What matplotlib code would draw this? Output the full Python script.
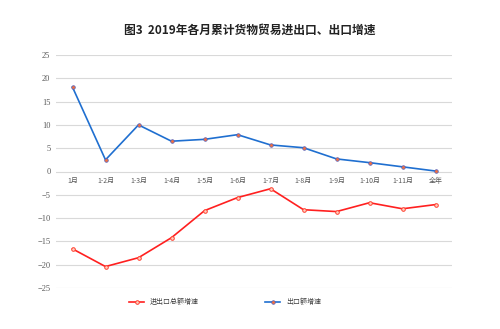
import matplotlib
matplotlib.use("Agg")
import matplotlib.pyplot as plt
from matplotlib.transforms import offset_copy

plt.rcParams['font.family'] = ['Noto Sans CJK SC', 'DejaVu Sans']

months = ["1月", "1-2月", "1-3月", "1-4月", "1-5月", "1-6月", "1-7月",
          "1-8月", "1-9月", "1-10月", "1-11月", "全年"]
total_growth = [-16.6, -20.4, -18.5, -14.2, -8.4, -5.6, -3.7,
                -8.2, -8.6, -6.7, -8.0, -7.1]
export_growth = [18.1, 2.5, 10.0, 6.5, 6.9, 7.9, 5.7,
                 5.1, 2.7, 1.9, 1.0, 0.1]
yticks = [25, 20, 15, 10, 5, 0, -5, -10, -15, -20, -25]

fig = plt.figure(figsize=(5.0, 3.29), dpi=100)
ax = fig.add_axes([56 / 500, 1 - 288 / 329, 396 / 500, 233 / 329])

x = list(range(len(months)))
ax.plot(x, total_growth, color="#ff2020", lw=1.2, marker="o", ms=2.6,
        mfc="#ffd0c0", mec="#ff4030", mew=0.7, label="进出口总额增速", zorder=3)
ax.plot(x, export_growth, color="#1f6fd0", lw=1.2, marker="o", ms=2.6,
        mfc="#f07040", mec="#5060c0", mew=0.5, label="出口额增速", zorder=3)

ax.set_ylim(-25, 25)
ax.set_xlim(-0.5, 11.5)
ax.set_yticks(yticks)
ax.yaxis.grid(True, color="#d9d9d9", lw=0.8)
ax.set_axisbelow(True)
ax.set_xticks([])
for s in ax.spines.values():
    s.set_visible(False)
ax.tick_params(axis="y", length=0, pad=4, labelsize=6, labelcolor="#595959")
for lab in ax.get_yticklabels():
    lab.set_family(["Liberation Serif", "DejaVu Serif"])

tr = offset_copy(ax.transData, fig=fig, x=0, y=-4, units="points")
for i, m in enumerate(months):
    ax.text(i, 0, m, transform=tr, ha="center", va="top", fontsize=5,
            color="#595959")

fig.text(0.5, 1 - 30 / 329, "图3  2019年各月累计货物贸易进出口、出口增速",
         ha="center", va="center", fontsize=8.5, fontweight="bold", color="#222222")

fig.legend(loc="center", bbox_to_anchor=(0.45, 1 - 302 / 329), ncol=2,
           frameon=False, fontsize=5, handlelength=2.2, columnspacing=9.5,
           labelcolor="#404040")

fig.savefig("out.png", dpi=100, facecolor="white")
